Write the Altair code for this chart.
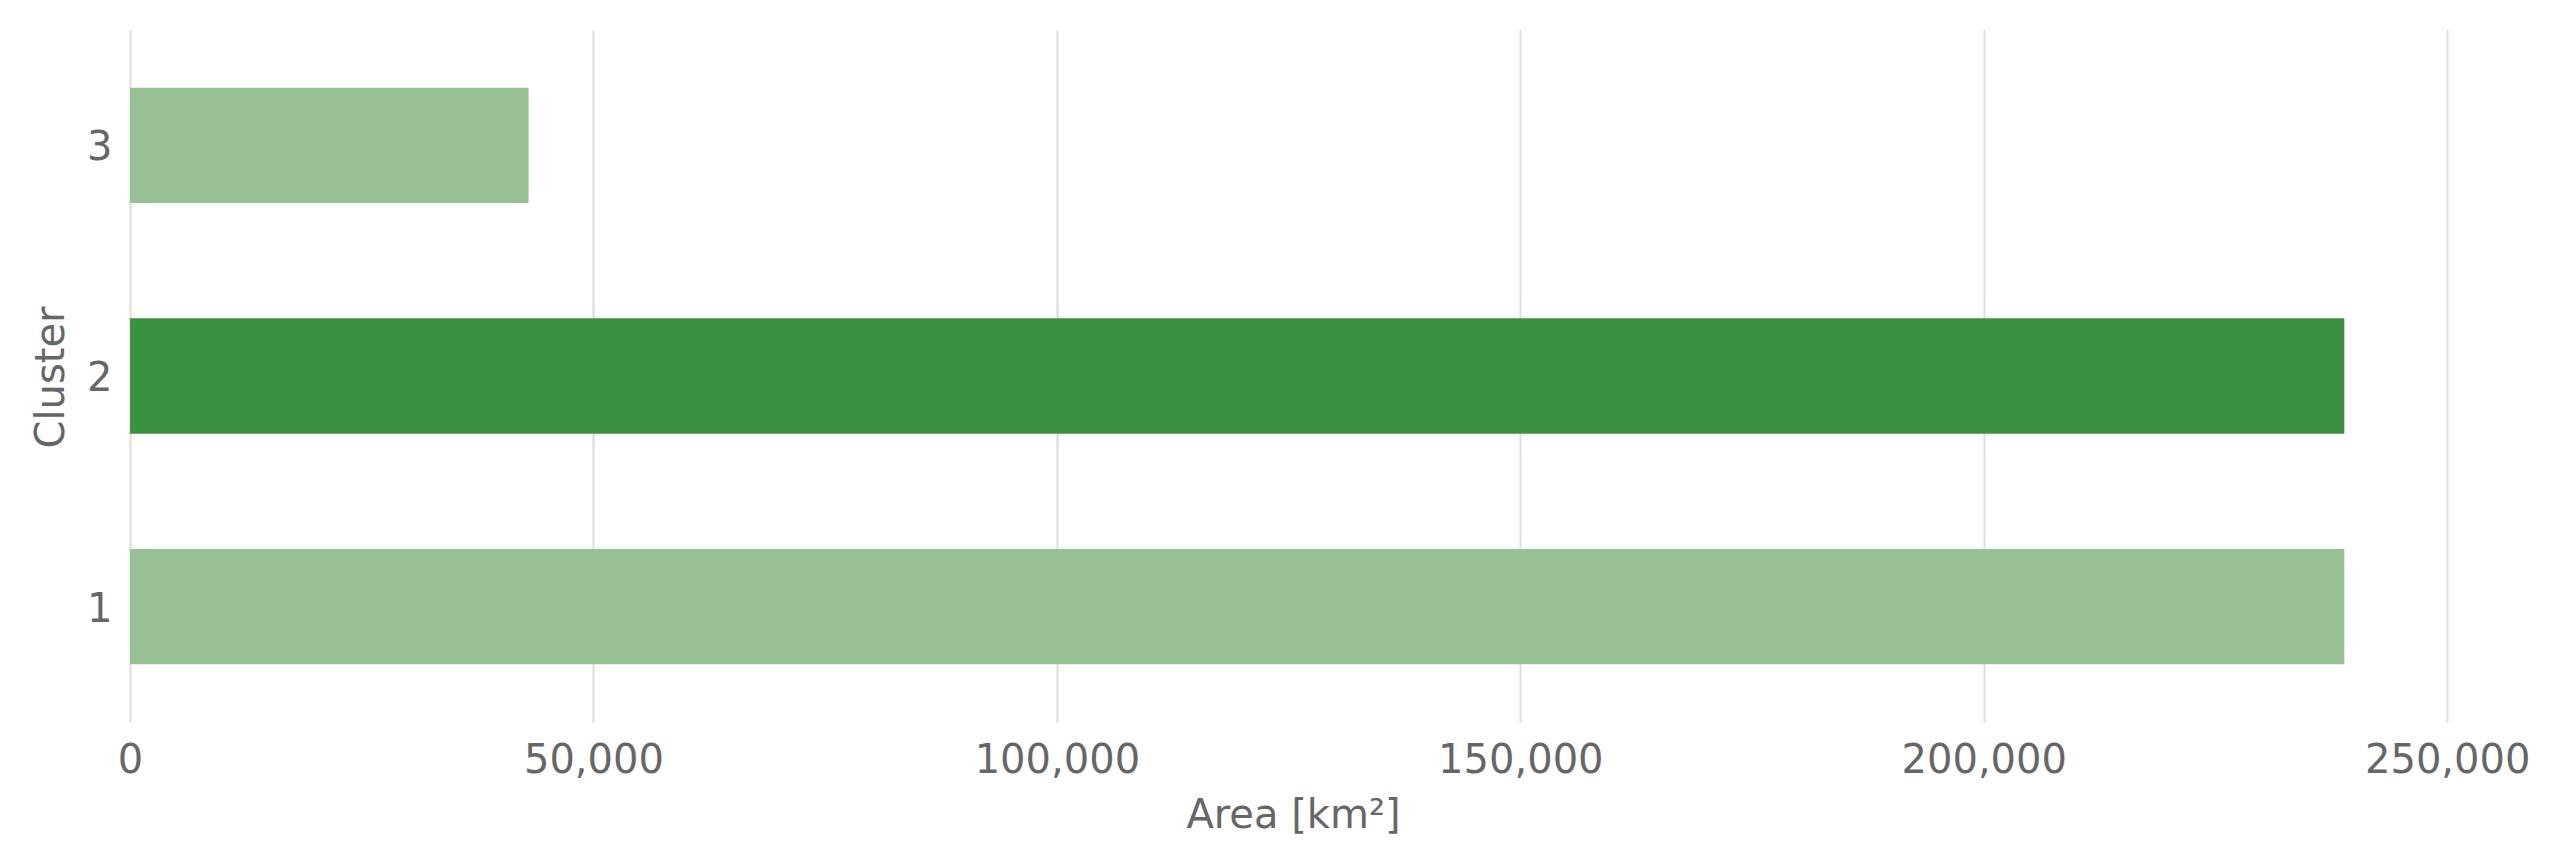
import altair as alt
import pandas as pd

clusters = ["1", "2", "3"]
areas = [238900, 238900, 43000]
highlight_cluster = "2"

df = pd.DataFrame({"Cluster": clusters, "Area": areas})

FONT = "DejaVu Sans"
TEXT = "#666666"
LIGHT = "#97c192"
DARK = "#3b9142"

W, H = 2326, 692

chart = (
    alt.Chart(df)
    .mark_bar()
    .encode(
        y=alt.Y(
            "Cluster:O",
            sort="descending",
            scale=alt.Scale(paddingInner=0.5, paddingOuter=0.25),
            axis=alt.Axis(
                title="Cluster",
                titleAngle=-90,
                titleX=-67,
                titleY=347,
                titleAlign="center",
                titleBaseline="alphabetic",
                labelAngle=0,
                labelPadding=18,
                labelOffset=3,
                ticks=False,
                tickSize=0,
                domain=False,
                grid=False,
            ),
        ),
        x=alt.X(
            "Area:Q",
            scale=alt.Scale(domain=[0, 250950], nice=False, zero=True),
            axis=alt.Axis(
                title="Area [km²]",
                values=[0, 50000, 100000, 150000, 200000, 250000],
                format=",.0f",
                titleX=W / 2,
                titleY=105,
                titleAlign="center",
                titleBaseline="alphabetic",
                labelPadding=18,
                labelFlush=False,
                labelOverlap=False,
                ticks=False,
                tickSize=0,
                domain=False,
                grid=True,
                gridColor="#dddddd",
                gridWidth=2,
            ),
        ),
        color=alt.condition(
            alt.datum.Cluster == highlight_cluster, alt.value(DARK), alt.value(LIGHT)
        ),
    )
    .properties(
        width=W,
        height=H,
        background="white",
        autosize=alt.AutoSizeParams(type="none"),
        padding={"left": 130, "top": 30, "right": 106, "bottom": 144},
    )
    .configure_view(stroke=None)
    .configure_axis(
        labelFont=FONT,
        titleFont=FONT,
        labelFontSize=40,
        titleFontSize=40,
        labelColor=TEXT,
        titleColor=TEXT,
        titleFontWeight="normal",
    )
)

chart.save("out.html", embed_options={"renderer": "svg", "actions": False})
